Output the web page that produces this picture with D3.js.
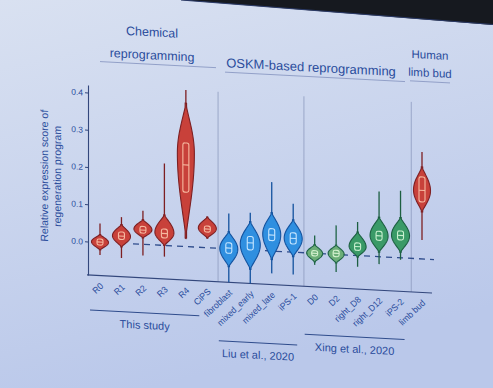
<!DOCTYPE html>
<html><head><meta charset="utf-8">
<script src="https://cdn.jsdelivr.net/npm/d3@7"></script>
<style>html,body{margin:0;padding:0;background:#d3dbee;}svg{display:block;}</style>
</head><body>
<svg id="chart" width="493" height="388"></svg>
<script>
// ---- data ----
const categories = ["R0","R1","R2","R3","R4","CiPS","fibroblast","mixed_early","mixed_late","iPS-1","D0","D2","right_D8","right_D12","iPS-2","limb bud"];
const groupOf    = ["red","red","red","red","red","red","blue","blue","blue","blue","lightgreen","lightgreen","green","green","green","red"];
const medians    = [0.000, 0.019, 0.038, 0.032, 0.219, 0.050, 0.002, 0.019, 0.043, 0.037, 0.000, 0.003, 0.024, 0.056, 0.060, 0.184];
const q1         = [-0.008,0.010, 0.030, 0.020, 0.146, 0.042, -0.012,0.000, 0.028, 0.022, -0.007,-0.006,0.014, 0.044, 0.048, 0.153];
const q3         = [0.008, 0.030, 0.048, 0.044, 0.278, 0.058, 0.016, 0.036, 0.060, 0.052, 0.007, 0.011, 0.034, 0.068, 0.072, 0.220];
const modes      = [0.000, 0.019, 0.040, 0.034, 0.250, 0.052, 0.000, 0.015, 0.045, 0.037, 0.000, 0.002, 0.024, 0.056, 0.060, 0.184];
const bodyLow    = [-0.021,-0.010,0.017, 0.000, 0.023, 0.026, -0.048,-0.052,-0.023,-0.012,-0.023,-0.023,-0.004,0.012, 0.015, 0.126];
const bodyHigh   = [0.020, 0.050, 0.066, 0.082, 0.385, 0.082, 0.046, 0.076, 0.103, 0.087, 0.023, 0.025, 0.063, 0.106, 0.108, 0.247];
const minVals    = [-0.035,-0.040,-0.030,-0.030,0.020, 0.024, -0.090,-0.090,-0.060,-0.060,-0.031,-0.047,-0.030,-0.020,-0.005,0.051];
const maxVals    = [0.050, 0.070, 0.090, 0.220, 0.420, 0.084, 0.095, 0.100, 0.185, 0.130, 0.048, 0.078, 0.090, 0.175, 0.180, 0.287];
const halfWidths = [8.5, 9, 9, 9.5, 8.5, 9, 9, 10, 9, 9, 8, 8, 8.5, 9, 9, 8.5];
const yTicks     = [0.0, 0.1, 0.2, 0.3, 0.4];
const studies    = [
  {label:"This study",        from:"R0",         to:"CiPS",     row:0},
  {label:"Liu et al., 2020",  from:"fibroblast", to:"iPS-1",    row:2},
  {label:"Xing et al., 2020", from:"D0",         to:"iPS-2",    row:1}
];
const headerLines = [["Chemical","reprogramming"],["OSKM-based reprogramming"],["Human","limb bud"]];
const separatorsAfter = ["CiPS","iPS-1","iPS-2"];

const palette = {
  red:        {fill:"#c8413a", edge:"#7d1f22", inner:"#f6b9a0"},
  blue:       {fill:"#2f8fe0", edge:"#13529e", inner:"#c6e6ff"},
  green:      {fill:"#3a9a67", edge:"#1c5f41", inner:"#c9f0cf"},
  lightgreen: {fill:"#6cae78", edge:"#1f6446", inner:"#d5f2cf"}
};
const textCol = "#2a4c9c", axisCol = "#33477c";
const font = "Liberation Sans, Arial, sans-serif";

const svg = d3.select("#chart");
// background
const defs = svg.append("defs");
const grad = defs.append("linearGradient").attr("id","bg").attr("x1","0").attr("y1","0").attr("x2","0.3").attr("y2","1");
grad.append("stop").attr("offset","0").attr("stop-color","#d9e1f1");
grad.append("stop").attr("offset","1").attr("stop-color","#bac8ea");
svg.append("rect").attr("width",493).attr("height",388).attr("fill","url(#bg)");
svg.append("polygon").attr("points","181,0 493,0 493,25").attr("fill","#16191f");
svg.append("line").attr("x1",181).attr("y1",0).attr("x2",493).attr("y2",24.5).attr("stroke","#2b3a66").attr("stroke-width",1.2);

const g = svg.append("g").attr("transform","translate(0,-4.66) skewY(3)");

const x = d3.scalePoint().domain(categories).range([100, 422]);
const y = d3.scaleLinear().domain([-0.09, 0.42]).range([275, 85]);
const step = x.step();

// separators
separatorsAfter.forEach(c => {
  const sx = x(c) + step/2;
  g.append("line").attr("x1",sx).attr("x2",sx).attr("y1",y(0.42)).attr("y2",y(-0.09))
    .attr("stroke","#8e9cc0").attr("stroke-width",0.8);
});

// y axis
const yAxis = d3.axisLeft(y).tickValues(yTicks).tickFormat(d3.format(".1f")).tickSize(3).tickSizeOuter(0);
const ya = g.append("g").attr("transform","translate(88,0)").call(yAxis);
ya.select(".domain").attr("stroke",axisCol).attr("stroke-width",1.1);
ya.selectAll(".tick line").attr("stroke",axisCol);
ya.selectAll(".tick text").attr("fill",textCol).attr("font-family",font).attr("font-size",8.5).attr("x",-5);

// bottom axis line
g.append("line").attr("x1",87).attr("x2",432).attr("y1",y(-0.09)).attr("y2",y(-0.09)).attr("stroke",axisCol).attr("stroke-width",1.1);

// zero dashed line
g.append("line").attr("x1",133).attr("x2",434).attr("y1",y(0)).attr("y2",y(0))
  .attr("stroke","#2f4c8c").attr("stroke-width",1.3).attr("stroke-dasharray","6,5");

// y title
g.append("text").attr("transform","translate(48,178) rotate(-90)").attr("text-anchor","middle")
  .attr("fill",textCol).attr("font-family",font).attr("font-size",10.5)
  .selectAll("tspan").data(["Relative expression score of","regeneration program"]).join("tspan")
  .attr("x",0).attr("dy",(d,i)=>i===0?0:13).text(d=>d);

// violins
const area = d3.area().x0(d=>d.cx-d.w).x1(d=>d.cx+d.w).y(d=>y(d.v)).curve(d3.curveLinear);
categories.forEach((c,i) => {
  const col = palette[groupOf[i]];
  const cx = x(c);
  g.append("line").attr("x1",cx).attr("x2",cx).attr("y1",y(minVals[i])).attr("y2",y(maxVals[i]))
    .attr("stroke",col.edge).attr("stroke-width",1.3);
  const pts = [];
  const N = 60, lo = bodyLow[i], hi = bodyHigh[i], m = modes[i];
  for (let k=0;k<=N;k++){
    const v = lo + (hi-lo)*k/N;
    const u = v < m ? (v-lo)/(m-lo) : (hi-v)/(hi-m);
    const w = halfWidths[i]*Math.pow(Math.sin(Math.max(0,Math.min(1,u))*Math.PI/2),1.2);
    pts.push({cx, v, w:Math.max(w,0.7)});
  }
  g.append("path").attr("d",area(pts)).attr("fill",col.fill).attr("stroke",col.edge).attr("stroke-width",1.1);
  const bw = 6;
  g.append("rect").attr("x",cx-bw/2).attr("width",bw).attr("y",y(q3[i])).attr("height",Math.max(2,y(q1[i])-y(q3[i])))
    .attr("rx",2).attr("fill","none").attr("stroke",col.inner).attr("stroke-width",1.1);
  g.append("line").attr("x1",cx-bw/2).attr("x2",cx+bw/2).attr("y1",y(medians[i])).attr("y2",y(medians[i]))
    .attr("stroke",col.inner).attr("stroke-width",1.1);
});

// x tick labels
categories.forEach(c => {
  g.append("text").attr("transform",`translate(${x(c)+4},${y(-0.09)+11}) rotate(-45)`)
    .attr("text-anchor","end").attr("fill",textCol).attr("font-family",font)
    .attr("font-size",8.8).text(c);
});

// study groups
const rowY = [310, 323, 334];
studies.forEach(s => {
  const x1 = x(s.from)-10, x2 = x(s.to)+ (s.row===0? -8 : 4);
  const ly = rowY[s.row];
  g.append("line").attr("x1",x1).attr("x2",x2).attr("y1",ly).attr("y2",ly).attr("stroke","#2f4c8c").attr("stroke-width",1);
  g.append("text").attr("x",(x1+x2)/2).attr("y",ly+16).attr("text-anchor","middle").attr("fill",textCol)
    .attr("font-family",font).attr("font-size",11).text(s.label);
});

// headers
const headerCx = [152, 311, 430];
const headerX1 = [100, 225, 410], headerX2 = [216, 405, 450];
const headerLineY = [61, 65, 64];
const headerGap = [23, 0, 18];
const headerSize = [12.5, 13, 11.5];
headerLines.forEach((lines,i) => {
  const baseY = headerLineY[i] - 5;
  lines.slice().reverse().forEach((t,k) => {
    g.append("text").attr("x",headerCx[i]).attr("y",baseY - k*headerGap[i]).attr("text-anchor","middle").attr("fill",textCol)
      .attr("font-family",font).attr("font-size",headerSize[i]).text(t);
  });
  g.append("line").attr("x1",headerX1[i]).attr("x2",headerX2[i]).attr("y1",headerLineY[i]).attr("y2",headerLineY[i])
    .attr("stroke","#8c9ac4").attr("stroke-width",0.9);
});
</script>
</body></html>
